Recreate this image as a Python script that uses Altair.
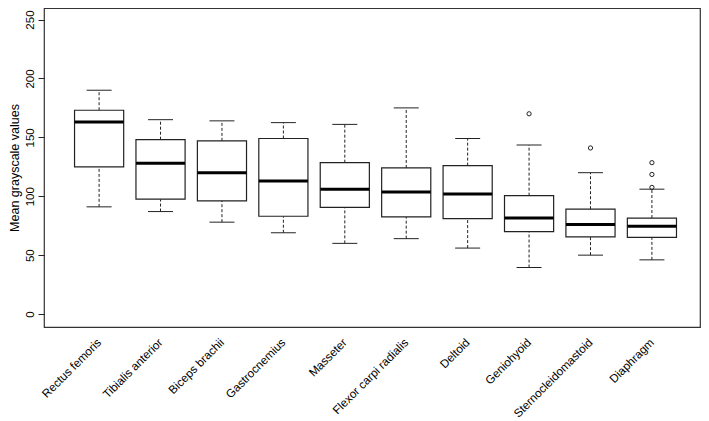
import altair as alt
import pandas as pd

muscles = ["Rectus femoris", "Tibialis anterior", "Biceps brachii", "Gastrocnemius",
           "Masseter", "Flexor carpi radialis", "Deltoid", "Geniohyoid",
           "Sternocleidomastoid", "Diaphragm"]
whisker_lo = [91, 87, 78, 69, 60, 64, 56, 39.5, 50, 46]
q1 = [125, 97.5, 96, 83, 90.5, 82.5, 81, 70, 65.5, 65]
median = [163, 128, 120, 113, 106, 103.5, 102, 81.5, 76, 74.5]
q3 = [173, 148, 147, 149, 128.5, 124, 126, 100.5, 89, 81.5]
whisker_hi = [190, 165, 164, 162.5, 161, 175, 149, 143.5, 120, 106]
outlier_muscle = ["Geniohyoid", "Sternocleidomastoid", "Diaphragm", "Diaphragm", "Diaphragm"]
outlier_value = [170, 141, 107.5, 118.5, 128.5]

df = pd.DataFrame({"muscle": muscles, "lo": whisker_lo, "q1": q1, "med": median,
                   "q3": q3, "hi": whisker_hi})
dfo = pd.DataFrame({"muscle": outlier_muscle, "value": outlier_value})

FONT = "Liberation Sans"
INK = "#222222"

xscale = alt.Scale(paddingInner=0.2, paddingOuter=0.44, align=0.565)
yscale = alt.Scale(domain=[-11, 259.8], nice=False, zero=False)

xenc = alt.X("muscle:N", sort=muscles, scale=xscale,
             axis=alt.Axis(title=None, labelAngle=-45, labelAlign="right",
                           labelBaseline="middle", ticks=False, domain=False,
                           labelPadding=13, labelFont=FONT, labelFontSize=11.7,
                           labelColor="black", labelLimit=300))
yaxis = alt.Axis(title="Mean grayscale values", values=[0, 50, 100, 150, 200, 250],
                 grid=False, domain=False, tickSize=6, tickColor=INK,
                 labelAngle=270, labelAlign="center", labelBaseline="bottom",
                 labelPadding=3, labelFont=FONT, labelFontSize=11.5, labelColor="black",
                 titleFont=FONT, titleFontSize=12.5, titleFontWeight="normal",
                 titleColor="black", titlePadding=3)

base = alt.Chart(df)

whisk_hi = base.mark_rule(color=INK, strokeWidth=1, strokeDash=[3, 2]).encode(
    x=xenc, y=alt.Y("q3:Q", scale=yscale, axis=yaxis), y2="hi:Q")
whisk_lo = base.mark_rule(color=INK, strokeWidth=1, strokeDash=[3, 2]).encode(
    x=xenc, y=alt.Y("lo:Q", scale=yscale), y2="q1:Q")
cap_hi = base.mark_tick(color=INK, size=25, thickness=1, opacity=1).encode(
    x=xenc, y=alt.Y("hi:Q", scale=yscale))
cap_lo = base.mark_tick(color=INK, size=25, thickness=1, opacity=1).encode(
    x=xenc, y=alt.Y("lo:Q", scale=yscale))
box = base.mark_bar(fill="white", stroke=INK, strokeWidth=1.2, opacity=1).encode(
    x=xenc, y=alt.Y("q1:Q", scale=yscale), y2="q3:Q")
med = base.mark_tick(color="black", size=49, thickness=3, opacity=1).encode(
    x=xenc, y=alt.Y("med:Q", scale=yscale))
outl = alt.Chart(dfo).mark_point(shape="circle", filled=False, color=INK, opacity=1,
                                 size=18, strokeWidth=1).encode(
    x=xenc, y=alt.Y("value:Q", scale=yscale))

chart = alt.layer(whisk_hi, whisk_lo, cap_hi, cap_lo, box, med, outl).properties(
    width=656, height=319,
    autosize=alt.AutoSizeParams(type="none"),
    padding={"left": 36, "top": 0, "right": 1, "bottom": 94},
    background="white",
).configure_view(stroke="#333333", strokeWidth=1.2)

chart.save("out.html", embed_options={"renderer": "svg", "actions": False})
